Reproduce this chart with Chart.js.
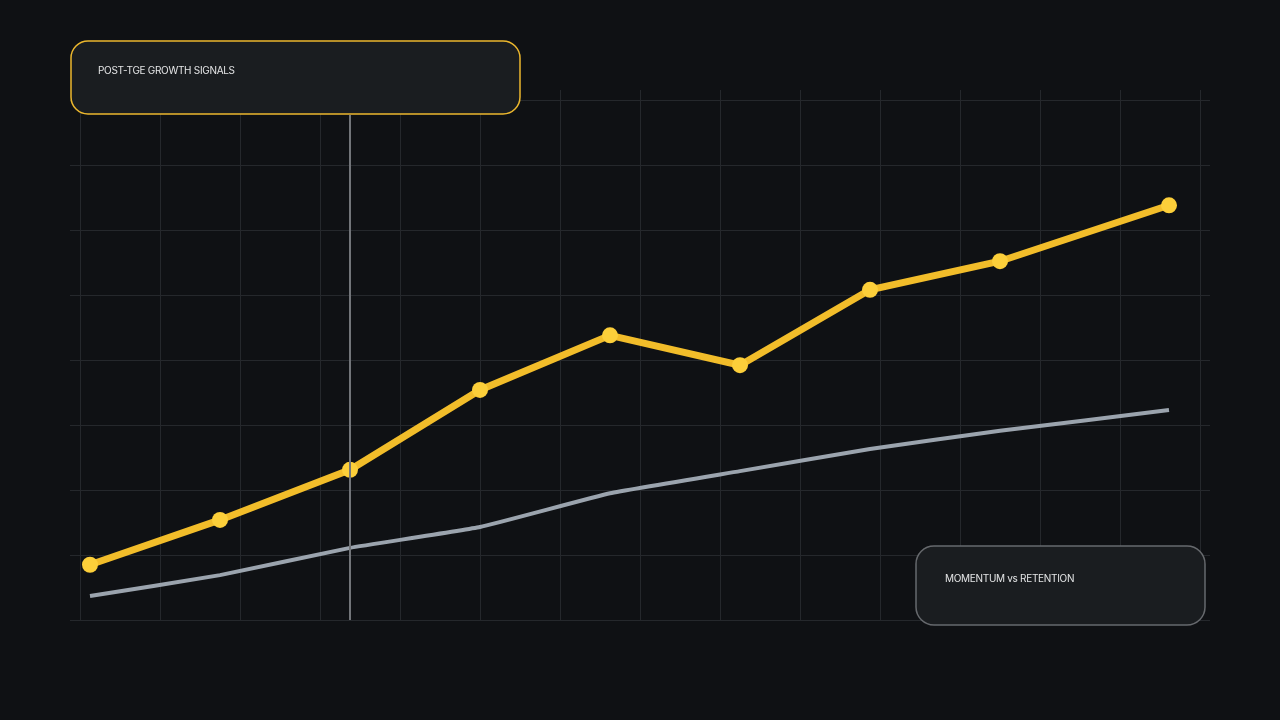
<!DOCTYPE html>
<html>
<head>
<meta charset="utf-8">
<script src="https://cdn.jsdelivr.net/npm/chart.js@4.4.1/dist/chart.umd.min.js"></script>
<style>
  html, body { margin: 0; padding: 0; background: #0f1114; }
  #wrap { width: 1280px; height: 720px; }
</style>
</head>
<body>
<div id="wrap"><canvas id="growthChart" width="1280" height="720"></canvas></div>
<script>
// x positions of each sample (last one sits a bit further out)
const steps = [0, 1, 2, 3, 4, 5, 6, 7, 8.3];
const momentum = [8.5, 15.4, 23.1, 35.4, 43.8, 39.2, 50.8, 55.2, 63.8];
const retention = [3.7, 6.9, 11.1, 14.3, 19.5, 22.9, 26.3, 29.1, 32.3];
const cursorStep = 2;
const titleText = 'POST-TGE GROWTH SIGNALS';
const legendText = 'MOMENTUM vs RETENTION';

const gridColor = '#25282c';

function roundBox(ctx, x, y, w, h, r, fill, stroke) {
    ctx.beginPath();
    ctx.roundRect(x, y, w, h, r);
    ctx.fillStyle = fill;
    ctx.fill();
    ctx.lineWidth = 1.5;
    ctx.strokeStyle = stroke;
    ctx.stroke();
}

const overlay = {
    id: 'overlay',
    afterDatasetsDraw(chart) {
        const ctx = chart.ctx;
        const x = chart.scales.x.getPixelForValue(steps[cursorStep]);
        ctx.save();
        ctx.strokeStyle = '#727579';
        ctx.lineWidth = 2;
        ctx.beginPath();
        ctx.moveTo(x, 115);
        ctx.lineTo(x, chart.chartArea.bottom);
        ctx.stroke();
        ctx.restore();
    },
    afterDraw(chart) {
        const ctx = chart.ctx;
        ctx.save();
        roundBox(ctx, 71, 41, 449, 73, 17, '#1a1d20', '#ebb72e');
        roundBox(ctx, 916, 546, 289, 79, 18, '#1a1d20', '#66696d');
        ctx.fillStyle = '#e4e5e6';
        ctx.font = '10px Inter';
        ctx.letterSpacing = '-0.3px';
        ctx.textBaseline = 'middle';
        ctx.fillText(titleText, 98, 71);
        ctx.fillText(legendText, 945, 579);
        ctx.restore();
    }
};

const ctx = document.getElementById('growthChart').getContext('2d');
const growthChart = new Chart(ctx, {
    type: 'line',
    data: {
        datasets: [{
            label: 'Momentum',
            data: steps.map((s, i) => ({x: s, y: momentum[i]})),
            borderColor: '#f2bd2a',
            borderWidth: 7,
            pointRadius: 8,
            pointBackgroundColor: '#fccf3a',
            pointBorderWidth: 0,
            tension: 0
        }, {
            label: 'Retention',
            data: steps.map((s, i) => ({x: s, y: retention[i]})),
            borderColor: '#9ba4ae',
            borderWidth: 4,
            pointRadius: 0,
            tension: 0.1
        }]
    },
    options: {
        responsive: false,
        animation: false,
        layout: { padding: { left: 70, right: 70, top: 90, bottom: 100 } },
        plugins: { legend: { display: false }, tooltip: { enabled: false } },
        scales: {
            x: { type: 'linear', display: false, min: -10 / 130, max: 1110 / 130 },
            xg: {
                type: 'linear', position: 'top', min: 0, max: 14,
                ticks: { display: false, stepSize: 1 },
                grid: { color: gridColor, tickLength: 10 },
                border: { display: false }
            },
            y: {
                min: 0, max: 80, position: 'left',
                ticks: { display: false, stepSize: 10 },
                grid: { color: gridColor, tickLength: 10 },
                border: { display: false }
            },
            yr: {
                min: 0, max: 80, position: 'right',
                ticks: { display: false, stepSize: 10 },
                grid: { color: gridColor, tickLength: 10, drawOnChartArea: false },
                border: { display: false }
            }
        }
    },
    plugins: [overlay]
});
</script>
</body>
</html>
